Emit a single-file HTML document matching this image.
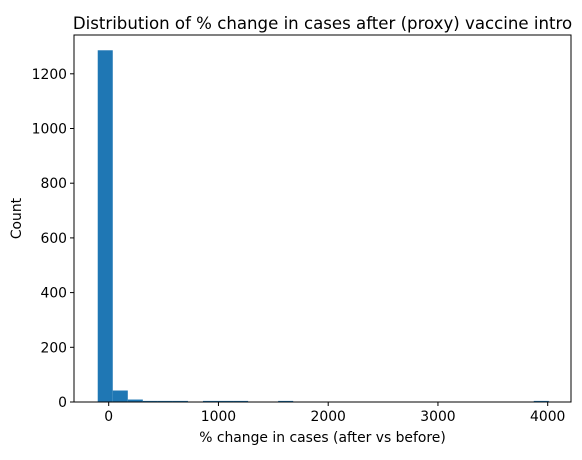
<!DOCTYPE html>
<html><head><meta charset="utf-8"><style>body{margin:0;background:#fff}svg{font-family:"DejaVu Sans","Liberation Sans",sans-serif}</style></head>
<body>
<svg id="c" width="582" height="455"></svg>
<script>
const binStart = -100;
const binWidth = 137;
const counts = [1286,42,9,4,4,4,0,4,4,4,0,0,4,0,0,0,0,0,0,0,0,0,0,0,0,0,0,0,0,4];
const xTicks = [0,1000,2000,3000,4000];
const yTicks = [0,200,400,600,800,1000,1200];
const L=74,R=571,T=35,B=402;
const xs=v=>108.7+v*0.10975;
const ys=v=>B-v*0.2735;
const svg=document.getElementById('c');const NS='http://www.w3.org/2000/svg';
function mk(t,a,txt){const e=document.createElementNS(NS,t);for(const k in a)e.setAttribute(k,a[k]);if(txt!=null)e.textContent=txt;svg.appendChild(e);return e;}
counts.forEach((c,i)=>{if(!c)return;const x0=xs(binStart+i*binWidth),x1=xs(binStart+(i+1)*binWidth);
const r=mk('rect',{x:x0,y:ys(c),width:x1-x0,height:B-ys(c),fill:'#1f77b4'});

});
const f=mk('rect',{x:L,y:T,width:R-L,height:B-T,fill:'none',stroke:'#000','stroke-width':1});

xTicks.forEach(v=>{const x=xs(v);mk('line',{x1:x,x2:x,y1:B,y2:B+4,stroke:'#000'});
const t=mk('text',{x:x,y:B+19,'text-anchor':'middle','font-size':13.9},v);
});
yTicks.forEach(v=>{const y=ys(v);mk('line',{x1:L-4,x2:L,y1:y,y2:y,stroke:'#000'});
const t=mk('text',{x:L-7,y:y+5,'text-anchor':'end','font-size':13.9},v);
});
let t=mk('text',{x:(L+R)/2,y:442,'text-anchor':'middle','font-size':13.9},'% change in cases (after vs before)');

t=mk('text',{x:21,y:(T+B)/2,'text-anchor':'middle','font-size':13.9,transform:`rotate(-90 21 ${(T+B)/2})`},'Count');

t=mk('text',{x:(L+R)/2,y:29,'text-anchor':'middle','font-size':16.6},'Distribution of % change in cases after (proxy) vaccine intro');

</script>
</body></html>
